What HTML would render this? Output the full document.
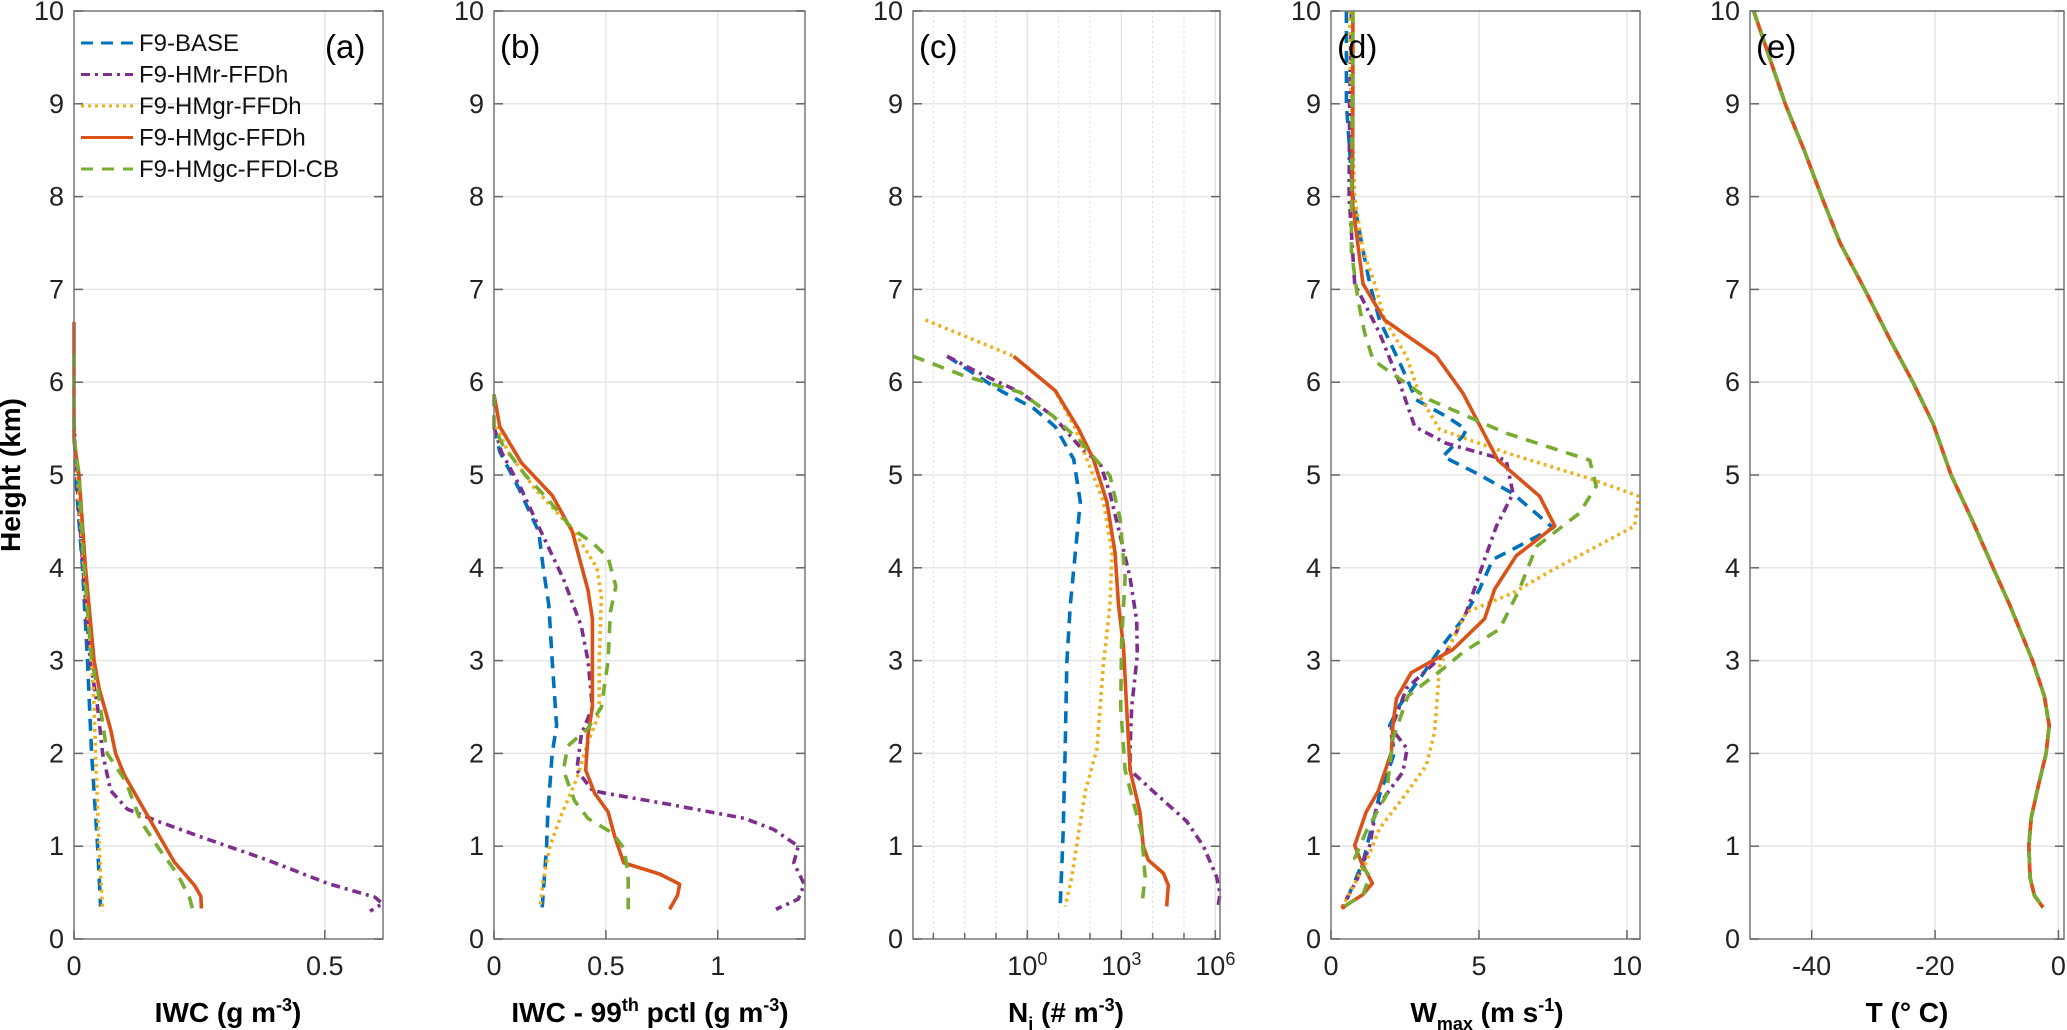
<!DOCTYPE html>
<html><head><meta charset="utf-8"><style>
body{margin:0;background:#fff}
svg{display:block;font-family:"Liberation Sans","DejaVu Sans",sans-serif}
</style></head><body>
<svg id="fig" width="2067" height="1030" viewBox="0 0 2067 1030" xmlns="http://www.w3.org/2000/svg"></svg>
<script>
const seriesNames=["F9-BASE","F9-HMr-FFDh","F9-HMgr-FFDh","F9-HMgc-FFDh","F9-HMgc-FFDl-CB"];
const aBaseH=[5.6,5,4,3,2,1,0.35], aBaseX=[0,0.003,0.017,0.027,0.035,0.047,0.053];
const aHMrH=[5.6,5,4,3,2.5,2,1.6,1.4,1.27,1.1,0.85,0.6,0.45,0.38,0.3], aHMrX=[0,0.005,0.018,0.032,0.047,0.057,0.073,0.106,0.166,0.253,0.386,0.505,0.6,0.615,0.59];
const aHMgrH=[5.5,4,3,2.5,2,1,0.3], aHMgrX=[0,0.02,0.035,0.04,0.043,0.05,0.057];
const aHMgcH=[6.65,5.37,5,4,3,2.7,2.26,2,1.77,1.27,0.83,0.58,0.46,0.33], aHMgcX=[0,0,0.01,0.023,0.04,0.05,0.073,0.083,0.1,0.153,0.2,0.24,0.253,0.254];
const aCBH=[6.3,5.4,5,4,3,2.7,2,1.7,1.27,1.0,0.7,0.45,0.33], aCBX=[0,0,0.01,0.02,0.035,0.047,0.066,0.103,0.133,0.166,0.206,0.23,0.236];
const bBaseH=[5.52,5.25,4.86,4.39,4,3.6,3,2.3,2,1.33,1,0.32], bBaseX=[0,0.026,0.11,0.2,0.22,0.245,0.26,0.28,0.26,0.24,0.235,0.215];
const bHMrH=[5.52,5.25,4.86,4.39,3.88,3.37,3,2.5,2.2,1.82,1.6,1.57,1.45,1.3,1.18,1,0.82,0.59,0.43,0.32], bHMrX=[0,0.033,0.12,0.21,0.31,0.39,0.42,0.44,0.39,0.37,0.44,0.5,0.785,1.12,1.25,1.36,1.34,1.387,1.36,1.26];
const bHMgrH=[5.52,5.25,4.86,4.39,4,3.68,3,2.43,2.12,1.73,1.33,1,0.63,0.35], bHMgrX=[0.01,0.063,0.18,0.36,0.46,0.48,0.47,0.47,0.42,0.37,0.3,0.25,0.22,0.206];
const bHMgcH=[5.87,5.52,5.13,4.78,4.39,3.76,3.45,3,2.5,2.2,1.82,1.57,1.37,1.1,0.82,0.7,0.59,0.47,0.32], bHMgcX=[0,0.026,0.123,0.26,0.35,0.42,0.44,0.44,0.44,0.42,0.41,0.45,0.51,0.54,0.58,0.74,0.83,0.82,0.785];
const bCBH=[5.87,5.52,5.32,5.0,4.74,4.42,4.27,4.11,3.8,3.52,3,2.5,2.27,2.08,1.82,1.49,1.3,1.14,0.98,0.7,0.32], bCBX=[0,0,0.04,0.14,0.24,0.35,0.44,0.51,0.545,0.52,0.51,0.48,0.42,0.33,0.31,0.36,0.42,0.53,0.58,0.6,0.6];
const cBaseH=[6.28,6.09,5.91,5.72,5.52,5.17,4.71,4.16,3.6,2.97,2.05,1.13,0.35], cBaseX=[-2.56,-1.7,-0.86,0.2,0.89,1.48,1.69,1.53,1.37,1.26,1.21,1.14,1.05];
const cHMrH=[6.28,6.11,5.89,5.63,5.26,5.13,4.8,4.35,3.89,3.43,3.06,2.5,2.05,1.82,1.59,1.27,1.0,0.67,0.49,0.35], cHMrX=[-2.56,-1.6,-0.22,0.84,1.79,2.32,2.64,2.96,3.28,3.49,3.51,3.33,3.28,3.28,4.02,5.08,5.62,6.04,6.15,6.09];
const cHMgrH=[6.67,6.28,5.91,5.5,5.17,4.71,4.16,3.6,2.97,2.05,1.59,1.13,0.67,0.35], cHMgrX=[-3.25,-0.44,0.89,1.53,1.9,2.43,2.7,2.64,2.43,2.22,1.85,1.63,1.42,1.21];
const cHMgcH=[6.28,5.91,5.5,5.17,4.71,4.16,3.6,3.15,2.5,1.82,1.36,1.0,0.85,0.71,0.58,0.35], cHMgcX=[-0.44,0.89,1.63,2.11,2.54,2.8,2.91,3.07,3.17,3.28,3.6,3.7,3.86,4.34,4.5,4.45];
const cCBH=[6.28,6.07,5.89,5.63,5.36,4.99,4.53,3.89,3.2,2.5,1.82,1.13,0.67,0.35], cCBX=[-3.65,-2.03,-0.22,0.84,1.69,2.64,2.96,3.12,3.01,2.98,3.12,3.65,3.76,3.65];
const dBaseH=[10,9,8,7.42,7.06,6.67,6.17,5.81,5.63,5.49,5.42,5.2,5.02,4.8,4.43,4.2,4.09,3.77,3.45,3.12,2.8,2.52,2.3,2.01,1.55,1.19,0.83,0.33], dBaseX=[0.52,0.52,0.74,1.08,1.31,1.64,2.38,2.88,3.9,4.57,4.46,3.78,4.91,6.15,7.5,6.15,5.47,5.02,4.46,3.67,2.99,2.32,1.98,2.15,1.64,1.36,1.08,0.41];
const dHMrH=[10,9,8,7.06,6.53,5.99,5.52,5.34,5.16,4.8,4.45,4.09,3.52,3.09,2.7,2.27,2.05,1.8,1.41,1.01,0.66,0.33], dHMrX=[0.69,0.63,0.61,0.8,1.64,2.32,2.83,3.9,5.92,6.15,5.59,5.19,4.57,3.9,2.55,2.04,2.57,2.43,1.53,1.31,0.91,0.35];
const dHMgrH=[10,9,8,7.42,7.06,6.67,6.28,5.85,5.49,5.24,4.95,4.77,4.45,3.98,3.73,3.52,2.94,2.23,1.87,1.52,1.19,0.83,0.33], dHMgrX=[0.63,0.69,0.8,1.08,1.48,1.81,2.55,3.0,3.67,5.92,8.85,10.4,10.26,7.5,6.15,4.57,3.67,3.5,3.22,2.43,1.64,1.19,0.35];
const dHMgcH=[10,9,8,7.89,7.06,6.67,6.28,5.88,5.16,4.77,4.45,4.13,3.77,3.45,3.12,2.87,2.59,2.3,2.01,1.59,1.37,1.01,0.83,0.6,0.48,0.33], dHMgcX=[0.74,0.74,0.72,0.74,1.08,1.81,3.56,4.46,5.64,7.05,7.56,6.26,5.53,5.19,4.12,2.71,2.21,2.09,2.04,1.59,1.19,0.8,1.02,1.4,1.08,0.35];
const dCBH=[10,9,8,7.42,6.89,6.53,6.24,6.06,5.81,5.45,5.16,4.88,4.59,4.23,3.77,3.34,3.09,2.94,2.62,2.16,1.55,1.16,0.87,0.68,0.48,0.33], dCBX=[0.74,0.72,0.69,0.69,0.91,1.14,1.42,2.21,3.33,5.92,8.74,8.96,8.4,6.94,6.37,5.7,4.46,3.9,2.6,2.09,1.87,1.19,0.8,1.31,1.08,0.35];
const eH=[10,9,8.48,8,7.5,7,6.46,6,5.55,5,4.5,4,3.6,3,2.62,2.3,2,1.64,1.31,1,0.66,0.47,0.34];
const eT=[-49.4,-44.3,-41.1,-38.4,-35.4,-31.4,-27.3,-23.6,-20.3,-17.4,-13.9,-10.6,-7.9,-4.2,-2.3,-1.5,-2.0,-3.3,-4.4,-4.8,-4.6,-3.9,-2.5];

const NS="http://www.w3.org/2000/svg";
const svg=document.getElementById('fig');
const TOP=11,BOT=939;
const yS=h=>BOT-(BOT-TOP)*h/10;
const colors=["#0072BD","#7E2F8E","#EDB120","#D95319","#77AC30"];
const dashes=["12,8","9,5,3,5","3,4","","12,9"];
function mk(tag,attrs,parent){const e=document.createElementNS(NS,tag);for(const k in attrs)e.setAttribute(k,attrs[k]);(parent||svg).appendChild(e);return e;}

const panels=[
 {id:'a',L:74,R:383,min:0,max:0.616,ticks:[0,0.5],tl:["0","0.5"],log:false,
  data:[[aBaseH,aBaseX],[aHMrH,aHMrX],[aHMgrH,aHMgrX],[aHMgcH,aHMgcX],[aCBH,aCBX]]},
 {id:'b',L:494,R:805,min:0,max:1.39,ticks:[0,0.5,1],tl:["0","0.5","1"],log:false,
  data:[[bBaseH,bBaseX],[bHMrH,bHMrX],[bHMgrH,bHMgrX],[bHMgcH,bHMgcX],[bCBH,bCBX]]},
 {id:'c',L:913,R:1220,min:-3.65,max:6.15,ticks:[0,3,6],tl:["0","3","6"],log:true,
  data:[[cBaseH,cBaseX],[cHMrH,cHMrX],[cHMgrH,cHMgrX],[cHMgcH,cHMgcX],[cCBH,cCBX]]},
 {id:'d',L:1331,R:1640,min:0,max:10.44,ticks:[0,5,10],tl:["0","5","10"],log:false,
  data:[[dBaseH,dBaseX],[dHMrH,dHMrX],[dHMgrH,dHMgrX],[dHMgcH,dHMgcX],[dCBH,dCBX]]},
 {id:'e',L:1750,R:2064,min:-50,max:0.9,ticks:[-40,-20,0],tl:["-40","-20","0"],log:false,
  data:[[eH,eT],[eH,eT],[eH,eT],[eH,eT],[eH,eT]]}
];

panels.forEach(p=>{
 const g=mk('g',{});
 
 
 const xS=v=>p.L+(p.R-p.L)*(v-p.min)/(p.max-p.min);
 for(let h=1;h<10;h++){const l=mk('line',{x1:p.L,x2:p.R,y1:yS(h),y2:yS(h),stroke:'#e6e6e6','stroke-width':1.5},g);
  }
 if(p.log){for(let k=-3;k<=6;k++){if(p.ticks.includes(k))continue;const l=mk('line',{x1:xS(k),x2:xS(k),y1:TOP,y2:BOT,stroke:'#dcdcdc','stroke-width':1,'stroke-dasharray':'2,3'},g);
  }}
 p.ticks.forEach(t=>{if(xS(t)>p.L+2&&xS(t)<p.R-2){const l=mk('line',{x1:xS(t),x2:xS(t),y1:TOP,y2:BOT,stroke:'#e6e6e6','stroke-width':1.5},g);
  }});
 p.data.forEach((s,i)=>{
  const pts=s[0].map((h,j)=>xS(s[1][j]).toFixed(1)+','+yS(h).toFixed(1)).join(' ');
  const pl=mk('polyline',{points:pts,fill:'none',stroke:colors[i],'stroke-width':3.6,'stroke-linejoin':'round','stroke-dasharray':dashes[i]},g);
  
  
 });
 const bx=mk('rect',{x:p.L,y:TOP,width:p.R-p.L,height:BOT-TOP,fill:'none',stroke:'#777','stroke-width':1.5},g);
 
 for(let h=0;h<=10;h++){
  mk('line',{x1:p.L,x2:p.L+9,y1:yS(h),y2:yS(h),stroke:'#666','stroke-width':1.5},g);
  mk('line',{x1:p.R-9,x2:p.R,y1:yS(h),y2:yS(h),stroke:'#666','stroke-width':1.5},g);
  const t=mk('text',{x:p.L-10,y:yS(h)+9,'text-anchor':'end','font-size':27,fill:'#222'},g);
  t.textContent=String(h);
  
 }
 if(p.log){for(let k=-3;k<=6;k++)mk('line',{x1:xS(k),x2:xS(k),y1:BOT-6,y2:BOT,stroke:'#666','stroke-width':1.5},g);}
 p.ticks.forEach((t,i)=>{
  mk('line',{x1:xS(t),x2:xS(t),y1:BOT-9,y2:BOT,stroke:'#666','stroke-width':1.5},g);
  const tx=mk('text',{x:xS(t),y:BOT+36,'text-anchor':'middle','font-size':27,fill:'#222'},g);
  if(p.log){tx.innerHTML='10<tspan dy="-10" font-size="18">'+p.tl[i]+'</tspan>';}
  else tx.textContent=p.tl[i];
  
 });
 const pl=mk('text',{x:p.id==='a'?p.R-58:p.L+6,y:58,'text-anchor':'start','font-size':33,fill:'#000'},g);
 pl.textContent='('+p.id+')';
 
});

function txt(x,y,html,name,extra){const t=document.createElementNS(NS,'text');t.setAttribute('x',x);t.setAttribute('y',y);t.setAttribute('text-anchor','middle');t.setAttribute('font-size',28);t.setAttribute('font-weight','bold');if(extra)t.setAttribute('transform',extra);t.innerHTML=html;
 
 
 svg.appendChild(t);}
txt(228,1022,'IWC (g m<tspan dy="-11" font-size="18">-3</tspan><tspan dy="11">)</tspan>','x-axis-title-a');
txt(650,1022,'IWC - 99<tspan dy="-11" font-size="18">th</tspan><tspan dy="11"> pctl (g m</tspan><tspan dy="-11" font-size="18">-3</tspan><tspan dy="11">)</tspan>','x-axis-title-b');
txt(1066,1022,'N<tspan dy="8" font-size="18">i</tspan><tspan dy="-8"> (# m</tspan><tspan dy="-11" font-size="18">-3</tspan><tspan dy="11">)</tspan>','x-axis-title-c');
txt(1487,1022,'W<tspan dy="8" font-size="18">max</tspan><tspan dy="-8"> (m s</tspan><tspan dy="-11" font-size="18">-1</tspan><tspan dy="11">)</tspan>','x-axis-title-d');
txt(1907,1022,'T (° C)','x-axis-title-e');
txt(20,475,'Height (km)','y-axis-title','rotate(-90 20 475)');
const lg=document.createElementNS(NS,'g');


svg.appendChild(lg);
seriesNames.forEach((n,i)=>{
 const y=43+i*31.5;
 mk('line',{x1:81,x2:133,y1:y,y2:y,stroke:colors[i],'stroke-width':3,'stroke-dasharray':dashes[i]},lg);
 const t=mk('text',{x:139,y:y+8,'font-size':24,fill:'#111'},lg);
 t.textContent=n;
 
 
});
</script>
</body></html>
